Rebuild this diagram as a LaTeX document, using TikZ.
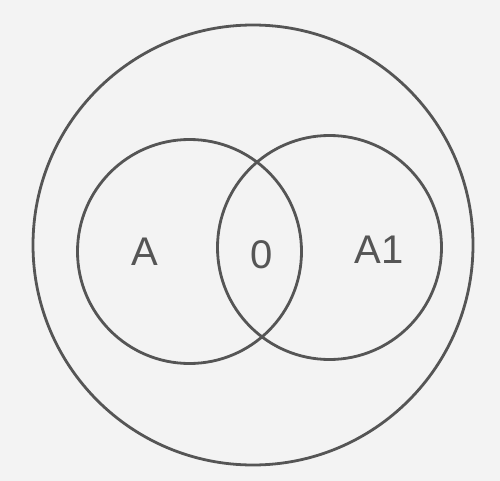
\documentclass[tikz,border=0pt]{standalone}
\usepackage{fontspec}
\setmainfont{Liberation Sans}
\definecolor{bg}{HTML}{F3F3F3}
\definecolor{ink}{HTML}{555555}
\begin{document}
\begin{tikzpicture}[x=1pt,y=-1pt,
  ring/.style={circle,draw=ink,line width=2.8pt,inner sep=0pt},
  lbl/.style={text=ink,font=\fontsize{40}{42}\selectfont,inner sep=0pt}]
\fill[bg] (0,0) rectangle (500,481);
\useasboundingbox (0,0) rectangle (500,481);
\node[ring,minimum size=440pt] (U) at (253,245) {};
\node[ring,minimum size=224pt] (L) at (189.5,251.5) {};
\node[ring,minimum size=224pt] (R) at (329.5,247.5) {};
\node[lbl] (a) at (145,252) {A};
\node[lbl] (o) at (262,255) {0};
\node[lbl] (a1) at (379,250) {A1};
\end{tikzpicture}
\end{document}
